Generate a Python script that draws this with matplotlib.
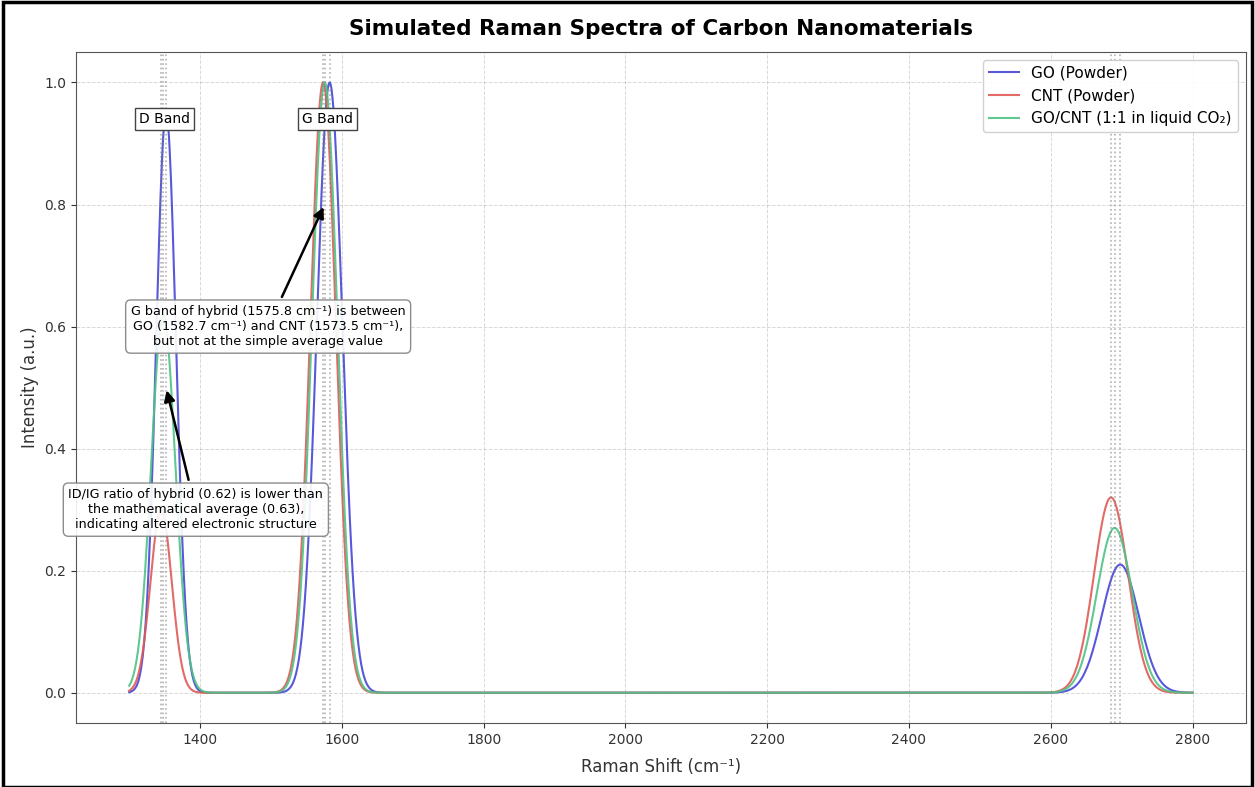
import matplotlib
matplotlib.use("Agg")
import matplotlib.pyplot as plt
import numpy as np
from matplotlib.patches import Rectangle

# peak parameters (position cm-1, height, width sigma)
labels = ["GO (Powder)", "CNT (Powder)", "GO/CNT (1:1 in liquid CO\u2082)"]
colors = ["#4646d6", "#e05a55", "#4fc285"]

d_pos = [1352.0, 1345.0, 1348.0]
d_amp = [0.95, 0.30, 0.62]
d_sig = [14.0, 15.0, 17.0]

g_pos = [1582.7, 1573.5, 1575.8]
g_amp = [1.00, 1.00, 1.00]
g_sig = [18.0, 18.0, 18.0]

p2d_pos = [2698.0, 2685.0, 2690.0]
p2d_amp = [0.21, 0.32, 0.27]
p2d_sig = [26.0, 24.0, 25.0]

shift = np.linspace(1300, 2800, 1500)


def band(x, pos, amp, sig):
    return amp * np.exp(-0.5 * ((x - pos) / sig) ** 2)


fig = plt.figure(figsize=(12.55, 7.87), dpi=100)
ax = fig.add_axes([0.0606, 0.081, 0.932, 0.853])

for i in range(3):
    y = (band(shift, d_pos[i], d_amp[i], d_sig[i])
         + band(shift, g_pos[i], g_amp[i], g_sig[i])
         + band(shift, p2d_pos[i], p2d_amp[i], p2d_sig[i]))
    ax.plot(shift, y, color=colors[i], lw=1.5, alpha=0.9, label=labels[i])

# dotted markers at every peak position
for plist in (d_pos, g_pos, p2d_pos):
    for p in plist:
        ax.axvline(p, color="gray", ls=":", lw=1.2, alpha=0.6)

ax.set_xlim(1225, 2875)
ax.set_ylim(-0.05, 1.05)

box = dict(boxstyle="square,pad=0.3", fc="white", ec="#444444", lw=1)
ax.text(1350, 0.94, "D Band", ha="center", va="center", fontsize=10, bbox=box)
ax.text(1580, 0.94, "G Band", ha="center", va="center", fontsize=10, bbox=box)

note = dict(boxstyle="round,pad=0.4", fc="white", ec="gray", lw=1, alpha=0.9)
arrow = dict(arrowstyle="-|>", color="black", lw=1.8, mutation_scale=16)
ax.annotate("G band of hybrid (1575.8 cm\u207b\u00b9) is between\n"
            "GO (1582.7 cm\u207b\u00b9) and CNT (1573.5 cm\u207b\u00b9),\n"
            "but not at the simple average value",
            xy=(1575.8, 0.80), xytext=(1496, 0.60),
            ha="center", va="center", fontsize=9.2, bbox=note,
            arrowprops=arrow)
ax.annotate("ID/IG ratio of hybrid (0.62) is lower than\n"
            "the mathematical average (0.63),\n"
            "indicating altered electronic structure",
            xy=(1352, 0.50), xytext=(1394, 0.30),
            ha="center", va="center", fontsize=9.2, bbox=note,
            arrowprops=arrow)

ax.grid(True, color="gray", alpha=0.3, lw=0.7, ls="--")
ax.tick_params(labelsize=10, colors="#333333")
for s in ax.spines.values():
    s.set_color("#555555")

ax.set_xlabel("Raman Shift (cm\u207b\u00b9)", fontsize=12, color="#333333", labelpad=8)
ax.set_ylabel("Intensity (a.u.)", fontsize=12, color="#333333")
ax.set_title("Simulated Raman Spectra of Carbon Nanomaterials",
             fontsize=15.5, fontweight="bold", pad=12)
ax.legend(loc="upper right", fontsize=11, framealpha=0.9)

# frame around the whole picture
fig.patches.append(Rectangle((0.002, 0.0), 0.996, 0.997, transform=fig.transFigure,
                             fill=False, ec="black", lw=2.5))

plt.savefig("out.png", dpi=100)
